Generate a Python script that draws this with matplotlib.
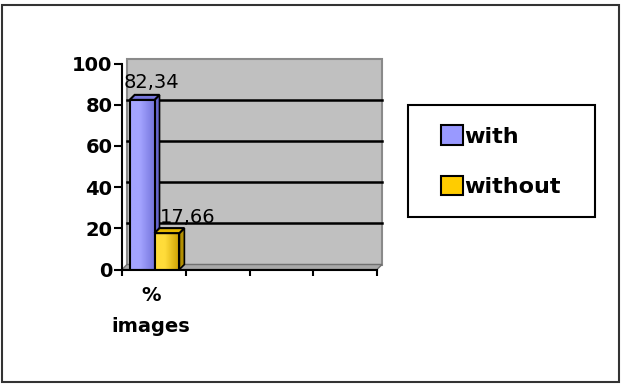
import numpy as np
import matplotlib
matplotlib.use("Agg")
import matplotlib.pyplot as plt
from matplotlib.patches import Rectangle, Polygon, Patch
from matplotlib.lines import Line2D
from matplotlib.transforms import ScaledTranslation

# ---- data ----
categories = ["%\nimages"]
series_names = ["with", "without"]
with_values = [82.34]
without_values = [17.66]
value_labels_with = ["82,34"]
value_labels_without = ["17,66"]
y_ticks = [0, 20, 40, 60, 80, 100]
n_slots = 4

# ---- style ----
face_colors = ["#9999ff", "#ffcc00"]
grad_left = ["#a4a4ff", "#ffdc3a"]
grad_right = ["#7474dc", "#cc9e00"]
top_colors = ["#7777dd", "#e6b800"]
side_colors = ["#6666cc", "#b38f00"]

W, H = 621, 384
fig = plt.figure(figsize=(W / 100, H / 100), dpi=100)
ax = fig.add_axes([122 / W, (H - 269.5) / H, 255 / W, 206 / H])
ax.patch.set_visible(False)

depth_px = 5
off = ScaledTranslation(depth_px / 100, depth_px / 100, fig.dpi_scale_trans)

# back wall
wall = Rectangle((0, 0), 1, 1, transform=ax.transAxes + off, facecolor="#c0c0c0",
                 edgecolor="#8a8a8a", lw=1.5, zorder=0, clip_on=False)
ax.add_patch(wall)
# floor
ox, oy = depth_px / 255, depth_px / 206
floor = Polygon([(0, 0), (1, 0), (1 + ox, oy), (ox, oy)], closed=True,
                transform=ax.transAxes, facecolor="#a8a8a8", edgecolor="#707070",
                lw=1, zorder=0.3, clip_on=False)
ax.add_patch(floor)
# gridlines on the wall
for yv in y_ticks[1:-1]:
    ax.add_line(Line2D([0, 1], [yv, yv], transform=ax.get_yaxis_transform() + off,
                       color="black", lw=1.8, zorder=0.5, clip_on=False))

# bars
bar_w = 0.39
start = 0.12
dx = n_slots * depth_px / 255
dy = 100 * depth_px / 206
series = [with_values, without_values]
labels_txt = [value_labels_with, value_labels_without]
label_offsets = [(9, 12), (21, 10)]
for s, vals in enumerate(series):
    for i, v in enumerate(vals):
        x0 = i + start + s * bar_w
        x1 = x0 + bar_w
        # side face
        side = Polygon([(x1, 0), (x1, v), (x1 + dx, v + dy), (x1 + dx, dy)], closed=True,
                       facecolor=side_colors[s], edgecolor="black", lw=1.2, zorder=2 + s)
        ax.add_patch(side)
        # front face with gradient
        rect = Rectangle((x0, 0), bar_w, v, facecolor="none",
                         edgecolor="black", lw=1.5, zorder=2.2 + s)
        ax.add_patch(rect)
        c1 = np.array(matplotlib.colors.to_rgb(grad_left[s]))
        c2 = np.array(matplotlib.colors.to_rgb(grad_right[s]))
        t = np.linspace(0, 1, 64)
        t = np.clip((t - 0.4) / 0.6, 0, 1)
        img = (c1[None, :] * (1 - t[:, None]) + c2[None, :] * t[:, None])[None, :, :]
        im = ax.imshow(img, extent=(x0, x1, 0, v), aspect="auto", zorder=2.1 + s,
                       interpolation="bilinear")
        im.set_clip_path(rect)
        # top face
        top = Polygon([(x0, v), (x1, v), (x1 + dx, v + dy), (x0 + dx, v + dy)], closed=True,
                      facecolor=top_colors[s], edgecolor="black", lw=1.5, zorder=2.3 + s)
        ax.add_patch(top)
        ax.annotate(labels_txt[s][i], xy=((x0 + x1) / 2, v), xytext=label_offsets[s],
                    textcoords="offset pixels", ha="center", va="baseline",
                    fontsize=14, color="black", zorder=5)

ax.set_xlim(0, n_slots)
ax.set_ylim(0, 100)

# axes styling
for sp in ["top", "right"]:
    ax.spines[sp].set_visible(False)
for sp in ["left", "bottom"]:
    ax.spines[sp].set_linewidth(1.5)
    ax.spines[sp].set_zorder(4)
ax.set_yticks(y_ticks)
ax.set_yticklabels([str(v) for v in y_ticks], fontsize=14, fontweight="bold")
ax.tick_params(axis="y", direction="out", length=6, width=1.5, pad=1)
ax.set_xticks(np.arange(n_slots + 1))
ax.set_xticklabels([""] * (n_slots + 1))
ax.tick_params(axis="x", which="major", direction="out", length=4, width=1.5)
ax.set_xticks(np.arange(len(categories)) + 0.45, minor=True)
ax.set_xticklabels(categories, minor=True, fontsize=14, fontweight="bold", linespacing=1.8)
ax.tick_params(axis="x", which="minor", length=0, pad=12)

# legend box and entries
fig.patches.append(Rectangle((408 / W, 1 - 217 / H), 187 / W, 112 / H, transform=fig.transFigure,
                             facecolor="white", edgecolor="black", lw=1.5, zorder=1))
handles = [Patch(facecolor=face_colors[k], edgecolor="black", lw=1.5) for k in range(2)]
fig.legend(handles, series_names, loc="upper left", bbox_to_anchor=(430 / W, 1 - 114 / H),
           frameon=False, borderpad=0, handlelength=1.0, handleheight=1.0,
           handletextpad=0.05, labelspacing=1.3, prop={"weight": "bold", "size": 16})

# outer border
fig.patches.append(Rectangle((0.004, 0.006), 0.992, 0.982, transform=fig.transFigure,
                             facecolor="none", edgecolor="#333333", lw=1.5, zorder=0))

fig.savefig("out.png", dpi=100)
